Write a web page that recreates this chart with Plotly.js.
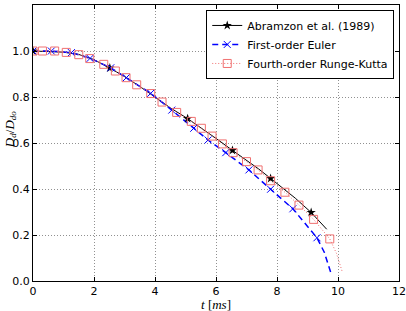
<!DOCTYPE html>
<html>
<head>
<meta charset="utf-8">
<script src="https://cdn.plot.ly/plotly-3.0.1.min.js"></script>
<style>
  html, body { margin: 0; padding: 0; background: #fff; }
  #chart { width: 406px; height: 311px; }
</style>
</head>
<body>
<div id="chart"></div>
<script>
// Droplet diameter ratio D_d / D_do versus time t [ms]

// Abramzon et al. (1989): reference curve and its starred points
const abramzonLineT = [0, 0.5, 1.0, 1.5, 2.0, 2.52, 3.0, 3.5, 4.0, 4.5, 5.07, 5.5, 6.0, 6.54, 7.0, 7.4, 7.79, 8.2, 8.6, 9.12, 9.63];
const abramzonLineD = [1.0, 0.999, 0.995, 0.985, 0.962, 0.926, 0.889, 0.846, 0.80, 0.753, 0.706, 0.668, 0.62, 0.568, 0.525, 0.487, 0.446, 0.404, 0.36, 0.298, 0.225];
const abramzonMarkT = [0, 2.52, 5.07, 6.54, 7.79, 9.12];
const abramzonMarkD = [1.0, 0.926, 0.706, 0.568, 0.446, 0.298];

// First-order Euler integration
const eulerLineT = [0, 0.6, 1.26, 1.87, 2.55, 3.06, 3.86, 4.55, 5.27, 5.74, 6.32, 7.08, 7.79, 8.52, 9.31, 9.55, 9.78];
const eulerLineD = [1.0, 1.0, 0.993, 0.968, 0.927, 0.884, 0.816, 0.743, 0.664, 0.613, 0.558, 0.483, 0.399, 0.314, 0.188, 0.125, 0.03];
const eulerMarkT = [0, 0.6, 1.26, 1.87, 2.55, 3.06, 3.86, 4.55, 5.27, 5.74, 6.32, 7.08, 7.79, 8.52, 9.31];
const eulerMarkD = [1.0, 1.0, 0.993, 0.968, 0.927, 0.884, 0.816, 0.743, 0.664, 0.613, 0.558, 0.483, 0.399, 0.314, 0.188];

// Fourth-order Runge-Kutta integration
const rkLineT = [0, 0.31, 0.71, 1.09, 1.5, 1.86, 2.32, 2.7, 3.05, 3.4, 3.86, 4.23, 4.71, 5.19, 5.52, 5.87, 6.21, 6.56, 7.0, 7.38, 7.79, 8.26, 8.72, 9.2, 9.73, 9.95, 10.14];
const rkLineD = [1.0, 1.0, 1.0, 0.994, 0.984, 0.967, 0.942, 0.913, 0.884, 0.853, 0.815, 0.778, 0.733, 0.694, 0.664, 0.63, 0.596, 0.558, 0.519, 0.483, 0.436, 0.386, 0.33, 0.268, 0.183, 0.12, 0.04];
const rkMarkT = [0, 0.31, 0.71, 1.09, 1.5, 1.86, 2.32, 2.7, 3.05, 3.4, 3.86, 4.23, 4.71, 5.19, 5.52, 5.87, 6.21, 6.56, 7.0, 7.38, 7.79, 8.26, 8.72, 9.2, 9.73];
const rkMarkD = [1.0, 1.0, 1.0, 0.994, 0.984, 0.967, 0.942, 0.913, 0.884, 0.853, 0.815, 0.778, 0.733, 0.694, 0.664, 0.63, 0.596, 0.558, 0.519, 0.483, 0.436, 0.386, 0.33, 0.268, 0.183];

const xTicks = [0, 2, 4, 6, 8, 10, 12];
const yTicks = [0.0, 0.2, 0.4, 0.6, 0.8, 1.0, 1.2];

// Separate points with nulls so a lines+markers trace draws only its markers
// on the plot while its legend entry still shows both line and marker.
function isolated(arr) {
  const out = [];
  arr.forEach((v, i) => { if (i) out.push(null); out.push(v); });
  return out;
}

const series = [
  { name: 'Abramzon et al. (1989)', lt: abramzonLineT, ld: abramzonLineD, mt: abramzonMarkT, md: abramzonMarkD,
    line: { color: '#000000', width: 1, dash: 'solid' },
    marker: { symbol: 'star', size: 7, color: '#000000', line: { width: 0 } } },
  { name: 'First-order Euler', lt: eulerLineT, ld: eulerLineD, mt: eulerMarkT, md: eulerMarkD,
    line: { color: '#0000ff', width: 1.5, dash: '6px,4px' },
    marker: { symbol: 'x-thin-open', size: 7, color: '#0000ff', line: { width: 1, color: '#0000ff' } } },
  { name: 'Fourth-order Runge-Kutta', lt: rkLineT, ld: rkLineD, mt: rkMarkT, md: rkMarkD,
    line: { color: '#f07070', width: 1, dash: '1px,2px' },
    marker: { symbol: 'square-open', size: 8, color: '#f07070', line: { width: 1, color: '#f07070' } } }
];

const traces = [];
series.forEach((s) => {
  traces.push({
    x: s.lt, y: s.ld, type: 'scatter', mode: 'lines',
    line: s.line, showlegend: false, hoverinfo: 'skip'
  });
});
series.forEach((s) => {
  traces.push({
    x: isolated(s.mt), y: isolated(s.md), type: 'scatter', mode: 'lines+markers',
    name: s.name, line: s.line, marker: s.marker, connectgaps: false
  });
});

const axisCommon = {
  showline: true, linecolor: '#000', linewidth: 1, mirror: 'ticks',
  ticks: 'inside', ticklen: 4, tickwidth: 1, tickcolor: '#000',
  showgrid: true, gridcolor: '#909090', gridwidth: 1, griddash: '1px,2px',
  zeroline: false, tickfont: { family: 'DejaVu Sans', size: 11, color: '#000' },
  fixedrange: true
};

const layout = {
  width: 406, height: 311,
  margin: { l: 33, r: 7, t: 5, b: 30 },
  paper_bgcolor: '#fff', plot_bgcolor: '#fff',
  showlegend: true,
  xaxis: Object.assign({}, axisCommon, {
    range: [0, 12], tickvals: xTicks, ticktext: xTicks.map(v => String(v))
  }),
  yaxis: Object.assign({}, axisCommon, {
    range: [0, 1.2], tickvals: yTicks, ticktext: yTicks.map(v => v.toFixed(1))
  }),
  legend: {
    x: 0.987, y: 0.982, xanchor: 'right', yanchor: 'top',
    bgcolor: '#fff', bordercolor: '#000', borderwidth: 1,
    font: { family: 'DejaVu Sans', size: 11, color: '#000' },
    itemwidth: 30, traceorder: 'normal'
  },
  annotations: [
    { text: '<i>t</i> [<i>ms</i>]', xref: 'paper', yref: 'paper', x: 0.5, y: -0.086,
      xanchor: 'center', yanchor: 'middle', showarrow: false,
      font: { family: 'Liberation Serif', size: 13, color: '#000' } },
    { text: '<i>D</i><sub><i>d</i></sub>/<i>D</i><sub><i>do</i></sub>', xref: 'paper', yref: 'paper',
      x: -0.063, y: 0.55, xanchor: 'center', yanchor: 'middle', textangle: -90, showarrow: false,
      font: { family: 'Liberation Serif', size: 13, color: '#000' } }
  ]
};

Plotly.newPlot('chart', traces, layout, { displayModeBar: false, staticPlot: true });
</script>
</body>
</html>
